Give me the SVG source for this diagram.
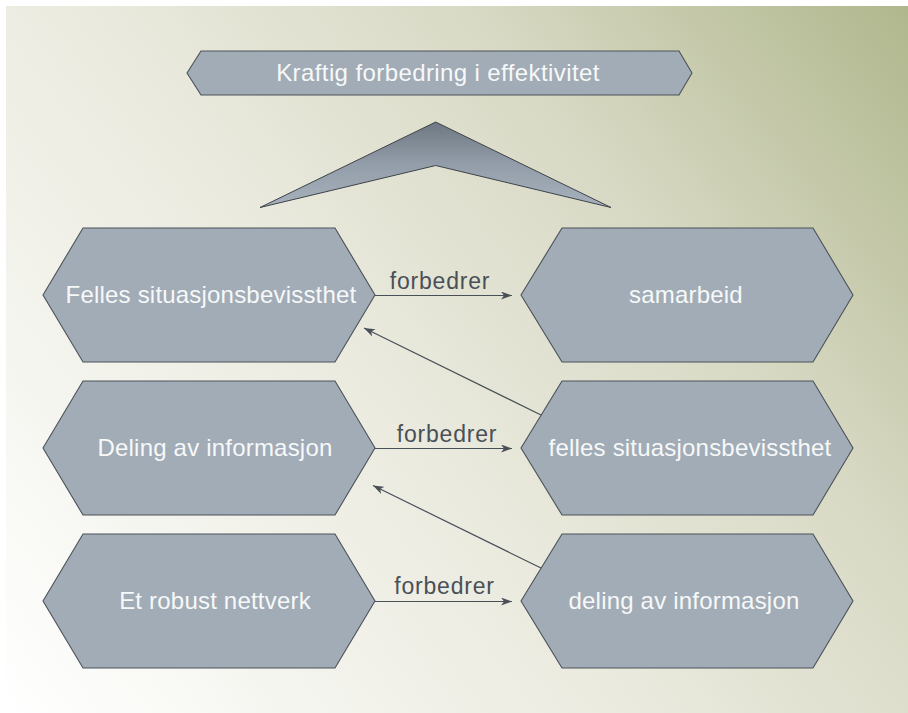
<svg xmlns="http://www.w3.org/2000/svg" width="908" height="713" viewBox="0 0 908 713">
<defs>
<linearGradient id="bg" gradientUnits="userSpaceOnUse" x1="6" y1="713" x2="908" y2="6">
<stop offset="0" stop-color="#ffffff"/>
<stop offset="0.45" stop-color="#e9e9dd"/>
<stop offset="0.7" stop-color="#d8d9c4"/>
<stop offset="1" stop-color="#b0b78d"/>
</linearGradient>
<linearGradient id="chev" x1="0" y1="0" x2="0" y2="1">
<stop offset="0" stop-color="#6e7882"/>
<stop offset="0.5" stop-color="#939eaa"/>
<stop offset="1" stop-color="#a7b1bc"/>
</linearGradient>
<marker id="ah" markerWidth="12" markerHeight="8" refX="11" refY="4" orient="auto" markerUnits="userSpaceOnUse">
<path d="M0,0 L11,4 L0,8 L3,4 z" fill="#4a5057"/>
</marker>
<style>
.hex{fill:#a1acb7;stroke:#4c5258;stroke-width:1.1}
.t{font-family:"Liberation Sans",Arial,sans-serif;font-size:24px;letter-spacing:0.2px;fill:#f7f8f8;text-anchor:middle}
.lbl{font-family:"Liberation Sans",Arial,sans-serif;font-size:23px;letter-spacing:0.8px;fill:#4a5057;text-anchor:middle}
.c{stroke:#4a5057;stroke-width:1.2;fill:none;marker-end:url(#ah)}
</style>
</defs>
<rect x="6" y="6" width="902" height="707" fill="url(#bg)"/>

<g id="banner">
<polygon class="hex" points="187,73 201,51 679,51 692,73 679,95 201,95"/>
<text class="t" x="438" y="81" style="letter-spacing:0.4px">Kraftig forbedring i effektivitet</text>
</g>

<g id="chevron">
<polygon points="435.7,122 611,207.5 435.7,165.5 260,207.5" fill="url(#chev)" stroke="#3e4349" stroke-width="1"/>
</g>

<g id="felles-left">
<polygon class="hex" points="43,295 83,228 335,228 375,295 335,362 83,362"/>
<text class="t" x="211" y="303">Felles situasjonsbevissthet</text>
</g>
<g id="samarbeid">
<polygon class="hex" points="521,295 562,228 813,228 853,295 813,362 562,362"/>
<text class="t" x="686" y="303">samarbeid</text>
</g>
<g id="deling-left">
<polygon class="hex" points="43,448 83,381 335,381 375,448 335,515 83,515"/>
<text class="t" x="215" y="456">Deling av informasjon</text>
</g>
<g id="felles-right">
<polygon class="hex" points="521,448 562,381 813,381 853,448 813,515 562,515"/>
<text class="t" x="690" y="456">felles situasjonsbevissthet</text>
</g>
<g id="nettverk">
<polygon class="hex" points="43,601 83,534 335,534 375,601 335,668 83,668"/>
<text class="t" x="215" y="609">Et robust nettverk</text>
</g>
<g id="deling-right">
<polygon class="hex" points="521,601 562,534 813,534 853,601 813,668 562,668"/>
<text class="t" x="684" y="609">deling av informasjon</text>
</g>

<g id="connectors">
<line class="c" x1="375" y1="295.5" x2="512" y2="295.5"/>
<text class="lbl" x="440" y="289">forbedrer</text>
<line class="c" x1="375" y1="448.5" x2="512" y2="448.5"/>
<text class="lbl" x="447" y="442">forbedrer</text>
<line class="c" x1="375" y1="601.5" x2="512" y2="601.5"/>
<text class="lbl" x="444.5" y="594">forbedrer</text>
<line class="c" x1="541" y1="415" x2="364" y2="328"/>
<line class="c" x1="541" y1="568" x2="373" y2="485.5"/>
</g>
</svg>
